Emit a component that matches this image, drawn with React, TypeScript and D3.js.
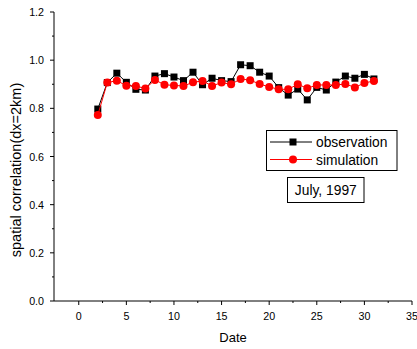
import React from "react";
import * as d3 from "d3";

const days = [2,3,4,5,6,7,8,9,10,11,12,13,14,15,16,17,18,19,20,21,22,23,24,25,26,27,28,29,30,31];
const observation = [0.797,0.907,0.946,0.908,0.879,0.876,0.934,0.944,0.930,0.915,0.950,0.898,0.925,0.915,0.911,0.981,0.977,0.950,0.934,0.886,0.855,0.880,0.835,0.887,0.876,0.909,0.934,0.925,0.941,0.922];
const simulation = [0.772,0.907,0.915,0.894,0.893,0.882,0.918,0.898,0.895,0.893,0.908,0.914,0.893,0.907,0.900,0.922,0.917,0.901,0.889,0.879,0.879,0.900,0.883,0.897,0.897,0.897,0.901,0.887,0.905,0.914];
const xTicks = [0,5,10,15,20,25,30,35];
const xMinor = [2.5,7.5,12.5,17.5,22.5,27.5,32.5];
const yTicks = [0,0.2,0.4,0.6,0.8,1.0,1.2];
const yMinor = [0.1,0.3,0.5,0.7,0.9,1.1];

const FONT = "Liberation Sans, Arial, sans-serif";

export default function App() {
  const x = d3.scaleLinear().domain([-2.6, 35]).range([54, 412]);
  const y = d3.scaleLinear().domain([0, 1.2]).range([301, 12]);
  const line = d3.line<number>().x((_, i) => x(days[i])).y((v) => y(v));
  return (
    <svg width={417} height={349} style={{ position: "absolute", left: 0, top: 0, background: "#fff" }}>
      {/* axes */}
      <line x1={54} x2={54} y1={y(1.2)} y2={301} stroke="#000" strokeWidth={1} />
      <line x1={54} x2={412} y1={301} y2={301} stroke="#000" strokeWidth={1} />
      {yTicks.map((t) => (
        <g key={"y" + t}>
          <line x1={50} x2={54} y1={y(t)} y2={y(t)} stroke="#000" />
          <text x={44} y={y(t) + 4} textAnchor="end" fontSize={10.7} fontFamily={FONT}>{t.toFixed(1)}</text>
        </g>
      ))}
      {yMinor.map((t) => (
        <line key={"ym" + t} x1={52} x2={54} y1={y(t)} y2={y(t)} stroke="#000" />
      ))}
      {xTicks.map((t) => (
        <g key={"x" + t}>
          <line x1={x(t)} x2={x(t)} y1={301} y2={305} stroke="#000" />
          <text x={x(t)} y={320} textAnchor="middle" fontSize={10.7} fontFamily={FONT}>{t}</text>
        </g>
      ))}
      {xMinor.map((t) => (
        <line key={"xm" + t} x1={x(t)} x2={x(t)} y1={301} y2={303} stroke="#000" />
      ))}
      <text x={233} y={342} textAnchor="middle" fontSize={13} fontFamily={FONT}>Date</text>
      <text transform={`translate(21,170) rotate(-90)`} textAnchor="middle" fontSize={14.5} fontFamily={FONT}>spatial correlation(dx=2km)</text>

      {/* series */}
      <path d={line(observation) || ""} fill="none" stroke="#000" strokeWidth={1} />
      {observation.map((v, i) => (
        <rect key={"o" + i} x={x(days[i]) - 3.5} y={y(v) - 3.5} width={7} height={7} fill="#000" />
      ))}
      <path d={line(simulation) || ""} fill="none" stroke="#ff0000" strokeWidth={1} />
      {simulation.map((v, i) => (
        <circle key={"s" + i} cx={x(days[i])} cy={y(v)} r={4} fill="#ff0000" />
      ))}

      {/* legend */}
      <rect x={266.5} y={130.5} width={130.5} height={40} fill="#fff" stroke="#000" strokeWidth={1} />
      <line x1={270} x2={312} y1={142} y2={142} stroke="#000" />
      <rect x={289.5} y={138.5} width={7} height={7} fill="#000" />
      <text x={316} y={147} fontSize={13.8} fontFamily={FONT}>observation</text>
      <line x1={270} x2={312} y1={159.5} y2={159.5} stroke="#ff0000" />
      <circle cx={293} cy={159.5} r={4} fill="#ff0000" />
      <text x={316} y={164.5} fontSize={13.8} fontFamily={FONT}>simulation</text>

      <rect x={287.5} y={177.5} width={76.5} height={25} fill="#fff" stroke="#000" strokeWidth={1} />
      <text x={325.8} y={195} textAnchor="middle" fontSize={13.8} fontFamily={FONT}>July, 1997</text>
    </svg>
  );
}
